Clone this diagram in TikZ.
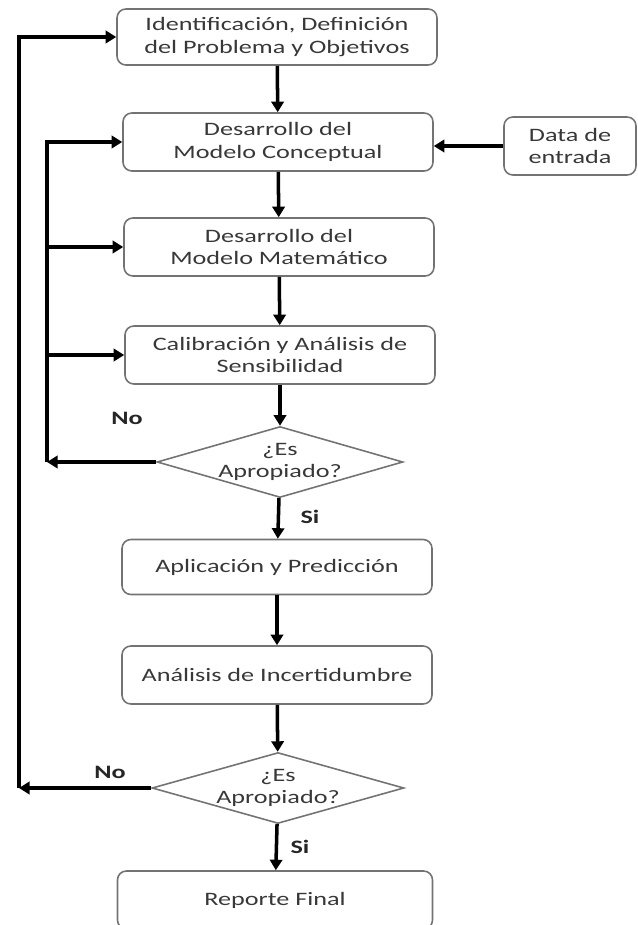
\documentclass[tikz,border=0pt]{standalone}
\usepackage{fontspec}
\setmainfont{Carlito}[FakeStretch=1.38]
\usepackage{tikz}
\usetikzlibrary{
  shapes.geometric,
  arrows.meta
}

\begin{document}
\begin{tikzpicture}[
  x=0.02cm, y=-0.02cm,
  box/.style={rectangle, draw=black!55, line width=0.9pt, rounded corners=5pt, minimum width=#1, minimum height=1.16cm, text=black!78, font=\fontsize{10.8}{13}\selectfont, align=center},
  box/.default=6.2cm,
  decis/.style={diamond, draw=black!55, line width=0.9pt, minimum width=#1, minimum height=1.42cm, inner sep=0pt},
  dtxt/.style={text=black!78, font=\fontsize{10.8}{13}\selectfont, align=center},
  arr/.style={-{Triangle[length=6pt,width=7pt]}, line width=2pt},
  lbl/.style={font=\fontsize{10.8}{13}\selectfont\bfseries, text=black!85}
]
  \useasboundingbox (0,0) rectangle (637,925);

  \node[box=6.4cm, minimum height=1.12cm] (ident) at (277,37) {Identificación, Definición\\del Problema y Objetivos};
  \node[box] (concep) at (278,142) {Desarrollo del\\Modelo Conceptual};
  \node[box=2.64cm] (data) at (570,146) {Data de\\entrada};
  \node[box] (matem) at (279,247) {Desarrollo del\\Modelo Matemático};
  \node[box] (calib) at (280,355) {Calibración y Análisis de\\Sensibilidad};

  \node[decis=4.92cm] (apro1) at (280,462) {};
  \node[dtxt] (apro1txt) at (apro1) {¿Es\\Apropiado?};

  \node[box, minimum height=1.1cm] (aplic) at (277,567) {Aplicación y Predicción};
  \node[box] (incert) at (277,675) {Análisis de Incertidumbre};

  \node[decis=5.04cm] (apro2) at (278,788) {};
  \node[dtxt] (apro2txt) at (apro2) {¿Es\\Apropiado?};

  \node[box=6.3cm] (report) at (275,900) {Reporte Final};

  \node[lbl] (no1) at (127,418) {No};
  \node[lbl] (si1) at (310,517) {Si};
  \node[lbl] (no2) at (110,772) {No};
  \node[lbl] (si2) at (300,847) {Si};

  \coordinate (back1) at (47,462);
  \coordinate (back2) at (19,788);

  \draw[arr] (ident) -- (concep);
  \draw[arr] (data.west) -- (concep.east |- data.west);
  \draw[arr] (concep) -- (matem);
  \draw[arr] (matem) -- (calib);
  \draw[arr] (calib) -- (apro1);
  \draw[arr] (apro1) -- (aplic);
  \draw[arr] (aplic) -- (incert);
  \draw[arr] (incert) -- (apro2);
  \draw[arr] (apro2) -- (report);

  \draw[arr] (apro1.west) -- (back1);
  \draw[arr] (back1) |- (concep.west);
  \draw[arr] (back1 |- matem.west) -- (matem.west);
  \draw[arr] (back1 |- calib.west) -- (calib.west);

  \draw[arr] (apro2.west) -- (back2);
  \draw[arr] (back2) |- (ident.west);
\end{tikzpicture}
\end{document}
